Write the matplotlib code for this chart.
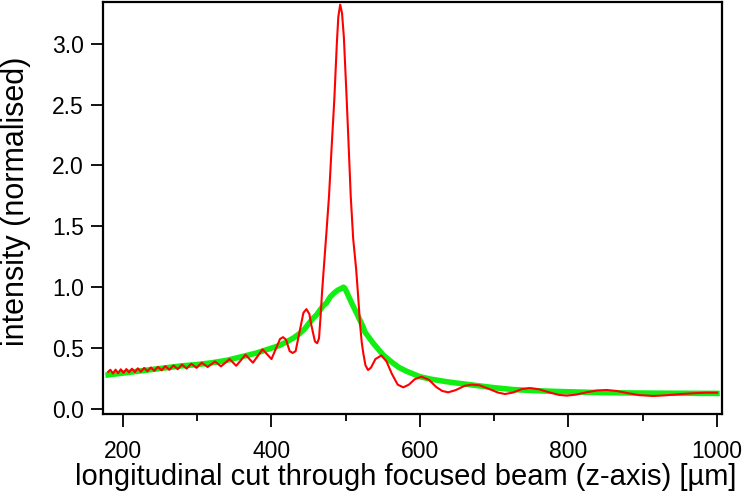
import matplotlib
matplotlib.use("Agg")
import matplotlib.pyplot as plt
from matplotlib.ticker import MultipleLocator

# medido (verde) - feixe focalizado, corte longitudinal
z_medido = [180, 200, 220, 240, 260, 280, 300, 320, 340, 360, 380, 400, 410, 420,
            430, 438, 445, 450, 456, 461, 465, 470, 474, 479, 484, 489, 494, 497,
            499, 502, 505, 508, 512, 516, 519, 523, 526, 531, 537, 544, 551, 557,
            564, 572, 582, 590, 600, 615, 636, 660, 680, 700, 725, 750, 780, 810,
            840, 880, 920, 960, 1000]
i_medido = [0.28, 0.295, 0.31, 0.325, 0.34, 0.355, 0.365, 0.38, 0.40, 0.43, 0.46,
            0.50, 0.52, 0.55, 0.585, 0.62, 0.66, 0.70, 0.745, 0.775, 0.81, 0.85,
            0.87, 0.92, 0.95, 0.975, 0.99, 1.0, 0.99, 0.95, 0.91, 0.87, 0.82, 0.77,
            0.73, 0.68, 0.63, 0.59, 0.54, 0.49, 0.44, 0.41, 0.375, 0.34, 0.31, 0.29,
            0.265, 0.245, 0.224, 0.205, 0.19, 0.175, 0.16, 0.152, 0.145, 0.14,
            0.135, 0.132, 0.13, 0.129, 0.128]

# simulado (vermelho)
z_sim = [180, 183, 186.5, 190, 193.5, 197, 200.8, 204.5, 208.2, 212, 216, 220,
         224.2, 228.5, 233, 237.5, 242.2, 247, 252, 257, 262.5, 268, 273.7, 279.5,
         285.7, 292, 299, 306, 314, 324, 332, 343.5, 352.5, 365, 375, 388, 400,
         411.5, 415.5, 419.5, 424.5, 428.5, 432.5, 438, 443, 447, 451, 454, 458.5,
         461.5, 464, 466, 468, 470, 474, 477.5, 481, 484.6, 488, 490, 492.5, 495,
         497.5, 501.3, 504, 506.7, 510, 514, 517, 519.5, 521.5, 523.6, 526.5, 530,
         534, 540, 548, 555, 562, 570, 577.5, 585, 593, 602, 612, 622, 630, 638,
         648, 660, 669.5, 680, 695, 705, 714.5, 725, 737, 748, 760, 775, 787,
         797.5, 810, 825, 838, 851.5, 865, 880, 895, 914, 930, 950, 970, 985, 1000]
i_sim = [0.305, 0.322, 0.292, 0.323, 0.294, 0.326, 0.297, 0.328, 0.300, 0.331,
         0.303, 0.334, 0.306, 0.337, 0.310, 0.341, 0.314, 0.346, 0.318, 0.352,
         0.322, 0.358, 0.327, 0.365, 0.332, 0.372, 0.338, 0.38, 0.345, 0.39, 0.35,
         0.41, 0.355, 0.445, 0.38, 0.49, 0.41, 0.575, 0.59, 0.57, 0.475, 0.46,
         0.475, 0.64, 0.79, 0.82, 0.78, 0.68, 0.555, 0.54, 0.58, 0.75, 0.95, 1.12,
         1.45, 1.75, 2.15, 2.54, 3.0, 3.22, 3.32, 3.25, 3.05, 2.54, 2.15, 1.75,
         1.4, 1.15, 0.9, 0.68, 0.55, 0.46, 0.36, 0.32, 0.34, 0.41, 0.44, 0.39,
         0.29, 0.2, 0.178, 0.2, 0.245, 0.265, 0.24, 0.18, 0.148, 0.137, 0.155,
         0.19, 0.2, 0.195, 0.16, 0.135, 0.123, 0.135, 0.163, 0.172, 0.162, 0.135,
         0.116, 0.11, 0.118, 0.138, 0.152, 0.156, 0.148, 0.13, 0.114, 0.107,
         0.112, 0.122, 0.13, 0.134, 0.134]

x_ticks = [200, 400, 600, 800, 1000]
y_ticks = [0.0, 0.5, 1.0, 1.5, 2.0, 2.5, 3.0]

plt.rcParams['font.family'] = ['Liberation Sans', 'DejaVu Sans']

fig = plt.figure(figsize=(7.47, 4.97), dpi=100)
ax = fig.add_axes([0.1379, 0.167, 0.8286, 0.829])

ax.plot(z_medido, i_medido, color='#11ee11', lw=4.0, solid_joinstyle='round')
ax.plot(z_sim, i_sim, color='#ff0000', lw=1.5)

ax.set_xlim(173.1, 1006.7)
ax.set_ylim(-0.041, 3.342)
ax.set_xticks(x_ticks)
ax.set_yticks(y_ticks)
ax.set_yticklabels([f"{v:.1f}" for v in y_ticks])
ax.xaxis.set_minor_locator(MultipleLocator(100))

ax.tick_params(axis='x', which='major', direction='out', length=9.5, width=1.3,
               labelsize=16.5, pad=9)
ax.tick_params(axis='x', which='minor', direction='out', length=4.8, width=1.3)
ax.tick_params(axis='y', which='major', direction='out', length=8.6, width=1.3,
               labelsize=16.5, pad=5)
for s in ax.spines.values():
    s.set_linewidth(1.6)

ax.set_xlabel("longitudinal cut through focused beam (z-axis) [µm]", fontsize=21.0,
              labelpad=0)
ax.xaxis.label.set_x(0.489)
ax.set_ylabel("intensity (normalised)", fontsize=22.0)
ax.yaxis.set_label_coords(-0.117, 0.517)

plt.savefig("out.png", dpi=100)
plt.close()
